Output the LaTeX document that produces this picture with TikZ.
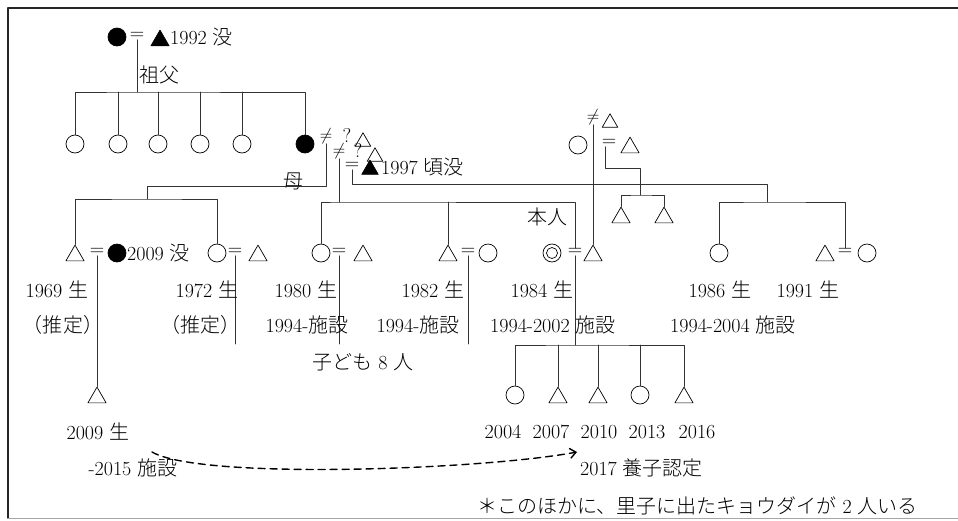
\documentclass[tikz,border=0pt]{standalone}
\usepackage{fontspec}
\usepackage{amsmath}
\newfontfamily\jp{Noto Sans CJK JP Light}
\usetikzlibrary{shapes.geometric,arrows.meta}

\tikzset{
  every node/.style={inner sep=0pt, font=\fontsize{20}{24}\selectfont},
  kin/.style={line width=0.9pt, black!80},
  fem/.style={circle, draw, line width=0.7pt, minimum size=18pt},
  femd/.style={fem, fill=black},
  mal/.style={regular polygon, regular polygon sides=3, draw, line width=0.7pt,
    minimum size=21pt, yshift=-2.6pt},
  mald/.style={mal, fill=black},
  sml/.style={mal, minimum size=18pt, yshift=-2.2pt},
  neq/.style={font=\fontsize{16}{18}\selectfont},
}

\begin{document}
\begin{tikzpicture}[x=1pt, y=-1pt, line cap=round, line join=round]
\useasboundingbox (0,0) rectangle (958,520);

% frame
\draw[line width=1.8pt, black!85] (958,8) -- (8,8) -- (8,518);
\draw[line width=0.8pt, black!35] (8,518) -- (958,518);

% grandparents
\node[femd] (gm) at (117,37) {};
\node (eq0) at (137,36) {=};
\node[mald] (gf) at (160,38) {};
\node[anchor=west] (gfd) at (170,37) {1992 {\jp 没}};
\node[anchor=west] (sofu) at (139,75) {\jp 祖父};
\coordinate (bar0) at (137,92);

% aunts and mother
\foreach \n/\x in {a1/75,a2/118,a3/158,a4/200,a5/242}
  \node[fem] (\n) at (\x,144) {};
\node[femd] (mo) at (305,144) {};
\draw[kin] (eq0.south) -- (bar0);
\draw[kin] (a1.north) |- (bar0) -| (mo.north);
\foreach \n in {a2,a3,a4,a5}
  \draw[kin] (\n.north) -- (\n.north |- bar0);

% partners of mother
\node[neq] (ne1) at (326,136) {$\neq$};
\node (q1) at (347,135) {?};
\node[sml] (p1) at (363,137) {};
\node[neq] (ne2) at (339,151) {$\neq$};
\node (q2) at (358,150) {?};
\node[sml] (p2) at (375,152) {};
\node (eq3) at (352,166) {=};
\node[mald, minimum size=19pt] (p3) at (370,167) {};
\node[anchor=west] (p3d) at (381,167) {1997 {\jp 頃没}};
\node (haha) at (293,181) {\jp 母};

% couple above the partner of ego
\node[neq] (ne4) at (593,117) {$\neq$};
\node[sml] (p4) at (610,118) {};
\node[fem] (o4) at (578,145) {};
\node (eq4) at (609,143) {=};
\node[mal] (t4) at (630,145) {};
\node[mal] (s1) at (621,215) {};
\node[mal] (s2) at (664,215) {};
\coordinate (k4) at (640,168);
\coordinate (j4) at (640,195);
\draw[kin] ([xshift=-4pt]eq4.south) |- (k4) -- (j4);
\draw[kin] (s1.north) |- (j4) -| (s2.north);

% siblings
\node[mal] (b1) at (75,253) {};
\node (eqa) at (97,252) {=};
\node[femd] (wa) at (117,253) {};
\node[anchor=west] (wad) at (127,253) {2009 {\jp 没}};
\node[fem] (b2) at (217,253) {};
\node (eqb) at (235,252) {=};
\node[mal] (hb) at (258,253) {};
\node[fem] (b3) at (321,253) {};
\node (eqc) at (339,252) {=};
\node[mal] (hc) at (363,253) {};
\node[mal] (b4) at (448,253) {};
\node (eqd) at (468,252) {=};
\node[fem] (wd) at (488,253) {};
\node[fem] (me) at (552,253) {};
\draw[line width=0.7pt] (me.center) circle (5.5pt);
\node (eqme) at (575,252) {=};
\node[mal] (hme) at (593,253) {};
\node[fem] (b6) at (719,253) {};
\node[mal] (b7) at (825,253) {};
\node (eq7) at (845,252) {=};
\node[fem] (w7) at (867,253) {};
\node (honnin) at (547,217) {\jp 本人};

% lines from mother
\coordinate (k1) at (147,186);
\coordinate (j1) at (147,199);
\coordinate (j2) at (339,202);
\coordinate (k3) at (767,184);
\coordinate (j3) at (767,202);
\draw[kin] (ne1.south) |- (k1) -- (j1);
\draw[kin] (b1.north) |- (j1) -| (b2.north);
\draw[kin] (ne2.south) -- (j2);
\draw[kin] (b3.north) |- (j2) -| (eqme.north);
\draw[kin] (b4.north) -- (b4.north |- j2);
\draw[kin] (eq3.south) |- (k3) -- (j3);
\draw[kin] (b6.north) |- (j3) -| (eq7.north);
\draw[kin] (ne4.south) -- (hme.north);

% children of the siblings
\coordinate (low) at (0,344);
\node[mal] (sn) at (97,395) {};
\draw[kin] (eqa.south) -- (sn.north);
\foreach \n in {eqb,eqc,eqd}
  \draw[kin] (\n.south) -- (\n.south |- low);
\coordinate (j5) at (575,345);
\draw[kin] (eqme.south) -- (j5);
\foreach \n/\x/\s in {g1/515/fem,g2/558/mal,g3/598/mal,g4/640/fem,g5/684/mal}
  \node[\s] (\n) at (\x,395) {};
\draw[kin] (g1.north) |- (j5) -| (g5.north);
\foreach \n in {g2,g3,g4}
  \draw[kin] (\n.north) -- (\n.north |- j5);

% years
\node (y1) at (57,290) {1969 {\jp 生}};
\node (y2) at (207,290) {1972 {\jp 生}};
\node (y3) at (306,290) {1980 {\jp 生}};
\node (y4) at (433,290) {1982 {\jp 生}};
\node (y5) at (542,290) {1984 {\jp 生}};
\node (y6) at (720,290) {1986 {\jp 生}};
\node (y7) at (808,290) {1991 {\jp 生}};
\node (f1) at (63,325) {\jp （推定）};
\node (f2) at (200,325) {\jp （推定）};
\node (f3) at (307,325) {1994-{\jp 施設}};
\node (f4) at (418,325) {1994-{\jp 施設}};
\node (f5) at (553,325) {1994-2002 {\jp 施設}};
\node (f6) at (733,325) {1994-2004 {\jp 施設}};
\node (kids) at (363,362) {{\jp 子ども} 8 {\jp 人}};
\foreach \n/\x/\t in {gy1/503/2004,gy2/551/2007,gy3/599/2010,gy4/647/2013,gy5/697/2016}
  \node (\n) at (\x,432) {\t};
\node (sny) at (98,432) {2009 {\jp 生}};
\node (snf) at (133,468) {-2015 {\jp 施設}};
\node[anchor=west] (adopt) at (580,468) {2017 {\jp 養子認定}};
\node[anchor=west] (note) at (477,506) {{\jp ＊このほかに、里子に出たキョウダイが} 2 {\jp 人いる}};

% adoption
\coordinate (from) at (152,452);
\coordinate (to) at (577,452);
\draw[line width=1.4pt, dash pattern=on 7pt off 5pt, -{Straight Barb[length=6pt,width=10pt]}]
  (from) .. controls (200,480) and (480,470) .. (to);

\end{tikzpicture}
\end{document}
